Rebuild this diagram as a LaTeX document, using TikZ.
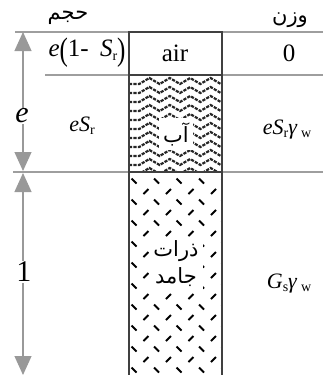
\documentclass[tikz,border=0pt]{standalone}
\usepackage{fontspec}
\usepackage{graphicx}
\setmainfont{Liberation Serif}
\newfontfamily\fa[Script=Arabic]{DejaVu Sans}
\TeXXeTstate=1
\usetikzlibrary{arrows.meta}
\newcommand{\sbr}{\raisebox{-0.3ex}{\fontsize{7}{7}\selectfont r}}
\newcommand{\sbw}{\raisebox{-0.3ex}{\fontsize{7}{7}\selectfont w}}
\newcommand{\sbs}{\raisebox{-0.3ex}{\fontsize{7}{7}\selectfont s}}
\newcommand{\bigpar}[1]{\raisebox{-0.35ex}{\scalebox{1}[1.3]{#1}}}
\begin{document}
\begin{tikzpicture}[x=0.5pt,y=-0.5pt,
  grayline/.style={draw=black!38,line width=0.55pt},
  boxline/.style={draw=black!75,line width=0.6pt},
  dimarrow/.style={draw=black!40,line width=0.55pt,
     {Triangle[width=8.5pt,length=9.5pt]}-{Triangle[width=8.5pt,length=9.5pt]}},
  lbl/.style={font=\fontsize{11}{13}\selectfont,inner sep=1pt},
  lblb/.style={font=\fontsize{12.5}{14}\selectfont,inner sep=1pt},
  big/.style={font=\fontsize{15}{17}\selectfont,inner sep=1pt},
  falbl/.style={font=\fa\fontsize{10.5}{12.5}\selectfont,inner sep=1pt},
  waterline/.style={draw=black!85,line width=1.1pt,dash pattern=on 1.6pt off 0.6pt},
  soliddash/.style={draw=black,line width=1pt}]
\useasboundingbox (0,0) rectangle (323,375);
% horizontal lines
\draw[grayline] (15,32) -- (323,32);
\draw[grayline] (45,75) -- (129,75);
\draw[grayline] (222,75) -- (323,75);
\draw[grayline] (13,172) -- (323,172);
% water pattern
\begin{scope}
\clip (129,75) rectangle (222,172);
\foreach \j in {0,...,10}{
  \pgfmathsetmacro{\yy}{84+9*\j}
  \draw[waterline] (129,\yy) \foreach \k in {1,...,10}{ -- ({129+10.2*\k},{\yy-6*mod(\k+1,2)}) };
}
\end{scope}
% solid pattern
\begin{scope}
\clip (129,172) rectangle (222,375);
\foreach \j in {0,...,19}{
  \pgfmathsetmacro{\yy}{181+10.5*\j}
  \ifodd\j
    \foreach \i in {0,...,4}{ \draw[soliddash] ({146+22.5*\i-2.5},{\yy+2.5}) -- ({146+22.5*\i+2.5},{\yy-2.5}); }
  \else
    \foreach \i in {0,...,4}{ \draw[soliddash] ({134+22.5*\i-2.5},{\yy-2.5}) -- ({134+22.5*\i+2.5},{\yy+2.5}); }
  \fi
}
\end{scope}
% box
\draw[boxline] (129,375) -- (129,32) -- (222,32) -- (222,375);
\draw[boxline] (129,75) -- (222,75);
\draw[boxline] (129,172) -- (222,172);
% dimension arrows
\coordinate (a1) at (23,32);
\coordinate (a2) at (23,171);
\coordinate (a3) at (23,173);
\coordinate (a4) at (23,375);
\draw[dimarrow] (a1) -- (a2);
\draw[dimarrow] (a3) -- (a4);
% labels
\node[falbl] (hajm) at (68,18) {\beginR حجم\endR};
\node[falbl] (vazn) at (290,20) {\beginR وزن\endR};
\node[lblb] (ea) at (87,53) {\textit{e}\bigpar{(}1-\hspace{0.45em}\textit{S}\sbr\bigpar{)}};
\node[lblb] (air) at (175,53) {air};
\node[lblb] (zero) at (289,53) {0};
\node[big,fill=white,inner sep=0.5pt] (e) at (22,116) {\textit{e}};
\node[lbl] (esr) at (82,126) {\textit{eS}\sbr};
\node[falbl,fill=white,inner sep=2pt] (ab) at (176,134) {\beginR آب\endR};
\node[lbl] (esrg) at (287,130) {\textit{eS}\sbr\textit{γ}\,\sbw};
\node[big,fill=white,inner sep=0.5pt] (one) at (24,272) {1};
\node[falbl,fill=white,inner sep=2pt,align=center] (solid) at (176,264) {\beginR ذرات\endR\\[1pt]\beginR جامد\endR};
\node[lbl] (gs) at (289,284) {\textit{G}\sbs\textit{γ}\,\sbw};
\end{tikzpicture}
\end{document}
